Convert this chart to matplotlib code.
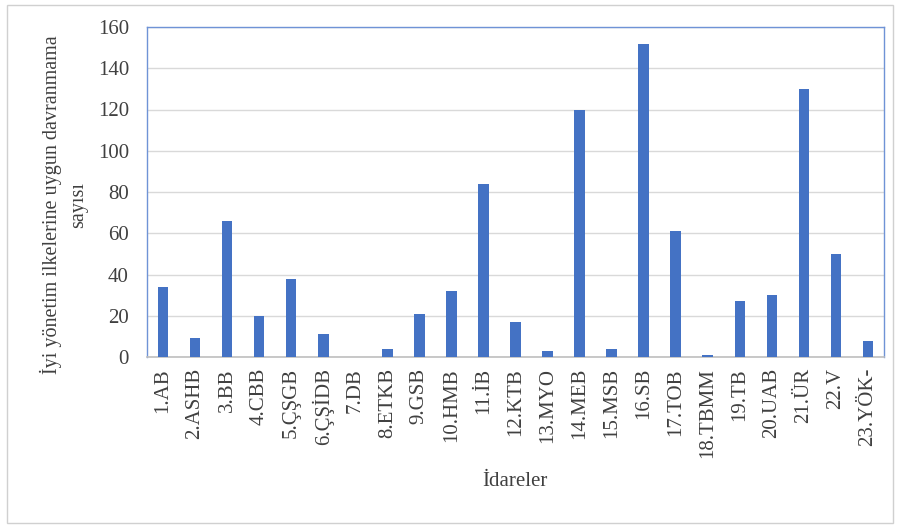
import matplotlib.pyplot as plt
from matplotlib.patches import Rectangle

plt.rcParams['font.family'] = ['Liberation Serif', 'DejaVu Serif']

# data
idareler = ["1.AB", "2.ASHB", "3.BB", "4.CBB", "5.ÇŞGB", "6.ÇŞİDB", "7.DB", "8.ETKB",
            "9.GSB", "10.HMB", "11.İB", "12.KTB", "13.MYO", "14.MEB", "15.MSB", "16.SB",
            "17.TOB", "18.TBMM", "19.TB", "20.UAB", "21.ÜR", "22.V", "23.YÖK-"]
sayilar = [34, 9, 66, 20, 38, 11, 0, 4, 21, 32, 84, 17, 3, 120, 4, 152,
           61, 1, 27, 30, 130, 50, 8]
y_ticks = [0, 20, 40, 60, 80, 100, 120, 140, 160]

W, H = 903, 530
fig = plt.figure(figsize=(W / 100, H / 100), dpi=100)
ax = fig.add_axes([147 / W, 1 - 357 / H, (884 - 147) / W, (357 - 27) / H])

x = range(len(idareler))
ax.bar(x, sayilar, width=0.33, color="#4472c4", zorder=3)

ax.set_xlim(-0.5, len(idareler) - 0.5)
ax.set_ylim(0, 160)
ax.set_yticks(y_ticks)
ax.set_xticks(list(x))
ax.set_xticklabels(idareler, rotation=90, fontsize=15, color="#404040")
ax.tick_params(axis="y", labelsize=15, labelcolor="#404040", length=0, pad=13)
ax.tick_params(axis="x", length=0, pad=8)
ax.grid(axis="y", color="#d9d9d9", linewidth=1, zorder=0)

for side in ["left", "right", "top"]:
    ax.spines[side].set_color("#6f93d6")
    ax.spines[side].set_linewidth(1)
ax.spines["bottom"].set_color("#bfbfbf")
ax.spines["bottom"].set_linewidth(1.2)

fig.text(64 / W, 1 - 205 / H, "İyi yönetim ilkelerine uygun davranmama\nsayısı",
         rotation=90, ha="center", va="center", multialignment="center",
         fontsize=14.5, color="#404040", linespacing=1.45)
fig.text(515 / W, 1 - 481 / H, "İdareler", ha="center", va="center",
         fontsize=15, color="#404040")

# outer chart frame
fig.patches.append(Rectangle((7 / W, 1 - 523 / H), 886 / W, 518 / H,
                             transform=fig.transFigure, fill=False,
                             edgecolor="#d0d0d0", linewidth=1))

fig.savefig("out.png", dpi=100)
